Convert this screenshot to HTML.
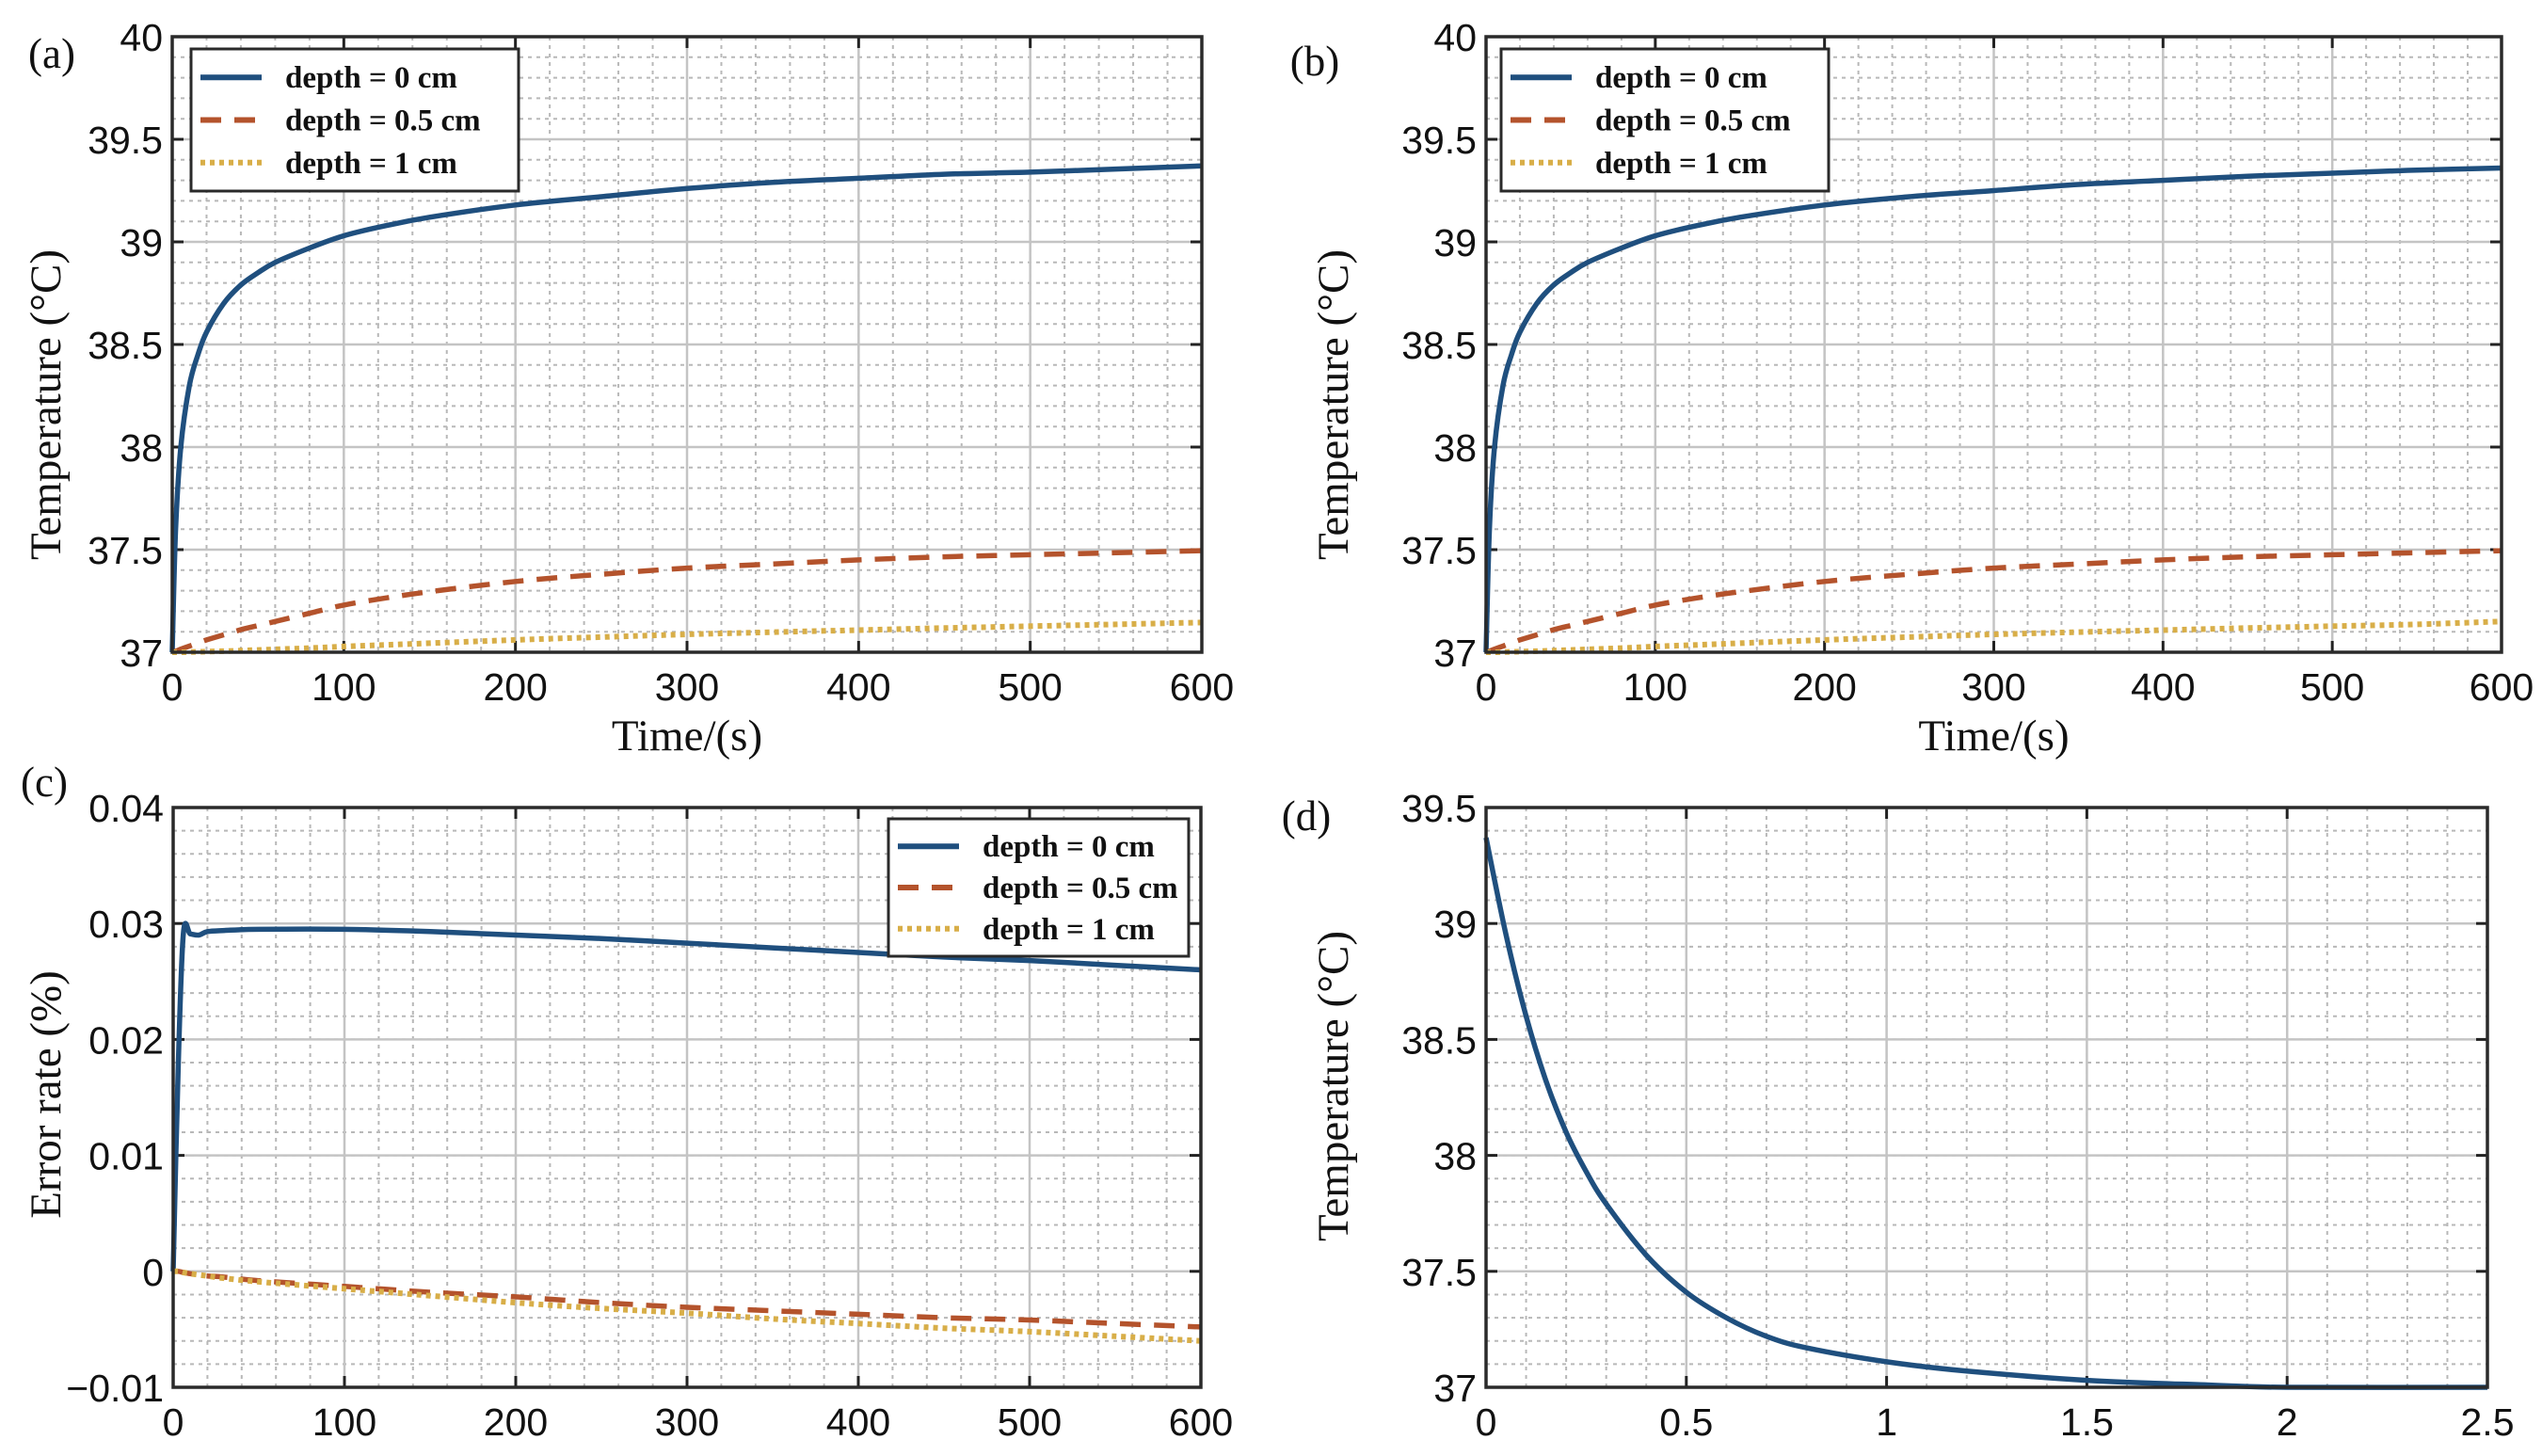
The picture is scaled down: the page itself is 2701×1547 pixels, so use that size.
<!DOCTYPE html>
<html><head><meta charset="utf-8">
<style>
html,body{margin:0;padding:0;background:#fff;}
svg{display:block;}
.tick{font-family:"Liberation Sans",sans-serif;font-size:41px;fill:#111;}
.ttl{font-family:"Liberation Serif",serif;font-size:47px;fill:#111;}
.leg{font-family:"Liberation Serif",serif;font-size:33px;font-weight:bold;fill:#111;}
.lbl{font-family:"Liberation Serif",serif;font-size:45px;fill:#111;}
</style></head>
<body>
<svg id="fig" width="2701" height="1547" viewBox="0 0 2701 1547" xmlns="http://www.w3.org/2000/svg">
<rect x="0" y="0" width="2701" height="1547" fill="#fff"/>
</svg>
<script>
// ---- data ----
const tA = [0,2,5,10,15,20,30,40,50,60,80,100,125,150,200,250,300,350,400,450,500,550,600];
const a0 = [37,37.6,38.0,38.3,38.45,38.56,38.7,38.79,38.85,38.9,38.97,39.03,39.08,39.12,39.18,39.22,39.26,39.29,39.31,39.33,39.34,39.355,39.37];
const a05 = [37,37.005,37.015,37.03,37.045,37.06,37.085,37.11,37.13,37.15,37.19,37.23,37.265,37.295,37.345,37.38,37.41,37.43,37.45,37.465,37.475,37.485,37.495];
const a1 = [37,37,37,37.001,37.002,37.003,37.005,37.008,37.011,37.014,37.02,37.028,37.036,37.044,37.06,37.074,37.087,37.098,37.108,37.118,37.127,37.136,37.145];
const b0 = [37,37.6,38.0,38.3,38.45,38.56,38.7,38.79,38.85,38.9,38.97,39.03,39.08,39.12,39.18,39.22,39.25,39.28,39.3,39.32,39.335,39.35,39.36];
const b05 = [37,37.005,37.015,37.03,37.045,37.06,37.085,37.11,37.13,37.15,37.19,37.23,37.265,37.295,37.345,37.38,37.41,37.43,37.45,37.465,37.475,37.485,37.495];
const b1 = [37,37,37,37.001,37.002,37.003,37.005,37.008,37.011,37.014,37.02,37.028,37.036,37.044,37.06,37.074,37.087,37.098,37.108,37.118,37.127,37.136,37.15];
const tC = [0,3,6,10,15,20,30,50,100,150,200,250,300,350,400,450,500,550,600];
const c0 = [0,0.018,0.0292,0.0291,0.029,0.0293,0.0294,0.0295,0.0295,0.0293,0.029,0.0287,0.0283,0.0279,0.0275,0.0271,0.0268,0.0264,0.026];
const c05 = [0,0,-0.0001,-0.0002,-0.0003,-0.0004,-0.0005,-0.0008,-0.0013,-0.0018,-0.0022,-0.0027,-0.0031,-0.0034,-0.0037,-0.004,-0.0042,-0.0045,-0.0048];
const c1 = [0,0,-0.0001,-0.0002,-0.0003,-0.0004,-0.0006,-0.0009,-0.0015,-0.0021,-0.0027,-0.0032,-0.0036,-0.0041,-0.0045,-0.0049,-0.0052,-0.0056,-0.006];
const tD = [0,0.05,0.1,0.15,0.2,0.25,0.3,0.4,0.5,0.6,0.7,0.8,1.0,1.2,1.5,1.8,2.0,2.5];
const d0 = [39.37,38.95,38.6,38.32,38.1,37.93,37.79,37.57,37.41,37.3,37.22,37.17,37.11,37.07,37.03,37.01,37.0,37.0];
const xTicksT = ["0","100","200","300","400","500","600"];
const yTicksA = ["37","37.5","38","38.5","39","39.5","40"];
const yTicksC = ["\u22120.01","0","0.01","0.02","0.03","0.04"];
const xTicksD = ["0","0.5","1","1.5","2","2.5"];
const yTicksD = ["37","37.5","38","38.5","39","39.5"];
const legLabels = ["depth = 0 cm","depth = 0.5 cm","depth = 1 cm"];

const NS="http://www.w3.org/2000/svg";
const fig=document.getElementById('fig');
function el(tag,attrs,parent){const e=document.createElementNS(NS,tag);for(const k in attrs)e.setAttribute(k,attrs[k]);(parent||fig).appendChild(e);return e;}
const COL=["#1f4f7e","#b4532c","#d8ae48"];
const DASH=["none","22,14","5,5"];

function smoothPath(P){
  let d='M'+P[0][0].toFixed(1)+','+P[0][1].toFixed(1);
  for(let i=0;i<P.length-1;i++){
    const p0=P[Math.max(0,i-1)],p1=P[i],p2=P[i+1],p3=P[Math.min(P.length-1,i+2)];
    const c1x=p1[0]+(p2[0]-p0[0])/6,c1y=p1[1]+(p2[1]-p0[1])/6;
    const c2x=p2[0]-(p3[0]-p1[0])/6,c2y=p2[1]-(p3[1]-p1[1])/6;
    d+=' C'+c1x.toFixed(1)+','+c1y.toFixed(1)+' '+c2x.toFixed(1)+','+c2y.toFixed(1)+' '+p2[0].toFixed(1)+','+p2[1].toFixed(1);
  }
  return d;
}

function panel(name,box,xr,yr,xminor,yminor,xlabels,ylabels,series,xs,opts){
  const g=el('g',{});
  
  
  const X=v=>box.l+(v-xr[0])/(xr[1]-xr[0])*(box.r-box.l);
  const Y=v=>box.b-(v-yr[0])/(yr[1]-yr[0])*(box.b-box.t);
  el('rect',{x:box.l,y:box.t,width:box.r-box.l,height:box.b-box.t,fill:'#fff'},g);
  const nx=Math.round((xr[1]-xr[0])/xminor), ny=Math.round((yr[1]-yr[0])/yminor);
  for(let i=1;i<nx;i++){const x=X(xr[0]+i*xminor);el('line',{x1:x,y1:box.t,x2:x,y2:box.b,stroke:'#b8b8b8','stroke-width':2,'stroke-dasharray':'4,5'},g);}
  for(let i=1;i<ny;i++){const y=Y(yr[0]+i*yminor);el('line',{x1:box.l,y1:y,x2:box.r,y2:y,stroke:'#b8b8b8','stroke-width':2,'stroke-dasharray':'4,5'},g);}
  const xstep=(xr[1]-xr[0])/(xlabels.length-1), ystep=(yr[1]-yr[0])/(ylabels.length-1);
  xlabels.forEach((s,i)=>{const x=X(xr[0]+i*xstep);
    if(i>0&&i<xlabels.length-1){el('line',{x1:x,y1:box.t,x2:x,y2:box.b,stroke:'#c4c4c4','stroke-width':2.5},g);
      el('line',{x1:x,y1:box.t,x2:x,y2:box.t+12,stroke:'#222','stroke-width':3},g);el('line',{x1:x,y1:box.b,x2:x,y2:box.b-12,stroke:'#222','stroke-width':3},g);}
    const t=el('text',{x:x,y:box.b+51,'text-anchor':'middle',class:'tick'},g);t.textContent=s;
    
    });
  ylabels.forEach((s,i)=>{const y=Y(yr[0]+i*ystep);
    if(i>0&&i<ylabels.length-1){el('line',{x1:box.l,y1:y,x2:box.r,y2:y,stroke:'#c4c4c4','stroke-width':2.5},g);
      el('line',{x1:box.l,y1:y,x2:box.l+12,y2:y,stroke:'#222','stroke-width':3},g);el('line',{x1:box.r,y1:y,x2:box.r-12,y2:y,stroke:'#222','stroke-width':3},g);}
    const t=el('text',{x:box.l-10,y:y+15,'text-anchor':'end',class:'tick'},g);t.textContent=s;
    
    });
  series.forEach((ys,k)=>{const idx=k;
    const P=xs.map((x,i)=>[X(x),Y(ys[i])]);
    const p=el('path',{d:smoothPath(P),fill:'none',stroke:COL[idx],'stroke-width':idx==2?6:5.5,'stroke-dasharray':DASH[idx],'stroke-linejoin':'round'},g);
    
    });
  el('rect',{x:box.l,y:box.t,width:box.r-box.l,height:box.b-box.t,fill:'none',stroke:'#2a2a2a','stroke-width':3.5},g);
  if(opts.legend){const L=opts.legend;
    const lg=el('g',{},g);
    
    
    el('rect',{x:L.x,y:L.y,width:L.w,height:L.h,fill:'#fff',stroke:'#2a2a2a','stroke-width':3},lg);
    legLabels.forEach((s,k)=>{const y=L.y+L.h*(0.2+0.3*k);
      el('line',{x1:L.x+10,y1:y,x2:L.x+75,y2:y,stroke:COL[k],'stroke-width':6,'stroke-dasharray':DASH[k]},lg);
      const t=el('text',{x:L.x+100,y:y+11,class:'leg'},lg);t.textContent=s;
      
      });}
  if(opts.xtitle){const t=el('text',{x:(box.l+box.r)/2,y:box.b+104,'text-anchor':'middle',class:'ttl'},g);t.textContent=opts.xtitle;
    
    }
  const yt=el('text',{x:0,y:0,'text-anchor':'middle',class:'ttl',transform:`translate(${opts.ytx},${opts.yty}) rotate(-90)`},g);yt.textContent=opts.ytitle;
  
  
  const pl=el('text',{x:opts.lx,y:opts.ly,'text-anchor':'middle',class:'lbl'},g);pl.textContent=opts.letter;
  
  
}

panel('panel-a',{l:183,r:1277,t:39,b:693},[0,600],[37,40],20,0.1,xTicksT,yTicksA,[a0,a05,a1],tA,
  {legend:{x:203,y:52,w:348,h:151},xtitle:'Time/(s)',ytitle:'Temperature (°C)',ytx:64,yty:430,letter:'(a)',lx:55,ly:72});
panel('panel-b',{l:1579,r:2658,t:39,b:693},[0,600],[37,40],20,0.1,xTicksT,yTicksA,[b0,b05,b1],tA,
  {legend:{x:1595,y:52,w:348,h:151},xtitle:'Time/(s)',ytitle:'Temperature (°C)',ytx:1432,yty:430,letter:'(b)',lx:1397,ly:80});
panel('panel-c',{l:184,r:1276,t:858,b:1474},[0,600],[-0.01,0.04],20,0.002,xTicksT,yTicksC,[c0,c05,c1],tC,
  {legend:{x:944,y:870,w:319,h:146},ytitle:'Error rate  (%)',ytx:64,yty:1163,letter:'(c)',lx:47,ly:846});
panel('panel-d',{l:1579,r:2643,t:858,b:1474},[0,2.5],[37,39.5],0.1,0.1,xTicksD,yTicksD,[d0],tD,
  {ytitle:'Temperature (°C)',ytx:1432,yty:1154,letter:'(d)',lx:1388,ly:882});
</script>
</body></html>
